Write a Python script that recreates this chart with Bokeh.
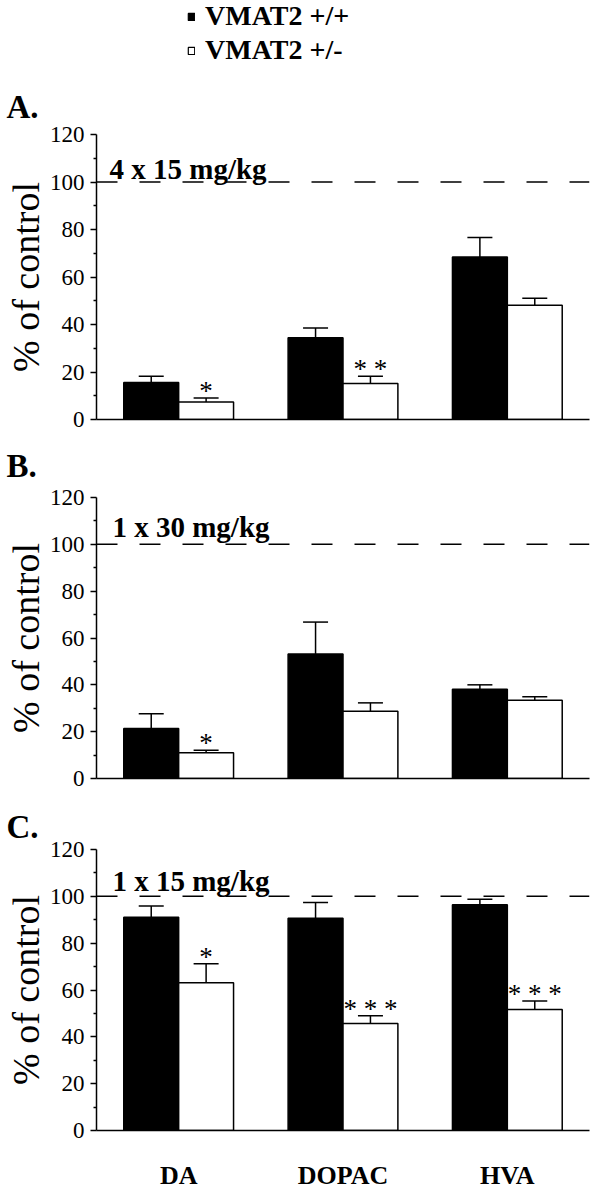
import numpy as np
from bokeh.plotting import figure
from bokeh.models import (Range1d, FactorRange, ColumnDataSource, Whisker, TeeHead, Span,
                          Label, Legend, LegendItem, FixedTicker, Title)
from bokeh.transform import dodge
from bokeh.layouts import column
from bokeh.core.properties import value
from bokeh.embed import file_html
from bokeh.resources import INLINE

# ---------------- data ----------------
categories = ["DA", "DOPAC", "HVA"]
genotypes = ["VMAT2 +/+", "VMAT2 +/-"]

panel_letters = ["A.", "B.", "C."]
doses = ["4 x 15 mg/kg", "1 x 30 mg/kg", "1 x 15 mg/kg"]

# Panel A (4 x 15 mg/kg)
a_wt = [15.6, 34.4, 68.4]
a_wt_err = [2.6, 4.1, 8.2]
a_het = [7.4, 15.2, 48.1]
a_het_err = [1.7, 3.0, 3.0]
a_sig = ["*", "* *", ""]

# Panel B (1 x 30 mg/kg)
b_wt = [21.3, 53.2, 38.1]
b_wt_err = [6.4, 13.6, 1.9]
b_het = [11.0, 28.7, 33.4]
b_het_err = [1.1, 3.6, 1.5]
b_sig = ["*", "", ""]

# Panel C (1 x 15 mg/kg)
c_wt = [91.1, 90.6, 96.4]
c_wt_err = [4.8, 6.8, 2.4]
c_het = [63.1, 45.7, 51.7]
c_het_err = [8.1, 3.3, 3.6]
c_sig = ["*", "* * *", "* * *"]

y_ticks = [0, 20, 40, 60, 80, 100, 120]
y_minor = [10, 30, 50, 70, 90, 110]
control_level = 100

SERIF = "Liberation Serif"
LEFT = 96
FRAME_W = 493
RIGHT = 1
W = LEFT + FRAME_W + RIGHT
BAR_W = 0.334
OFF = 0.167

# ---------------- legend header ----------------
header = figure(width=W, height=68, x_range=Range1d(0, 1), y_range=Range1d(0, 1),
                min_border_left=LEFT, min_border_right=RIGHT, min_border_top=0, min_border_bottom=0,
                output_backend="svg", toolbar_location=None)
header.axis.visible = False
header.grid.visible = False
header.outline_line_color = None
# legend-only renderers: a single undrawn (NaN) point, used for the legend swatches
swatch = ColumnDataSource(dict(x=np.array([0.5]), top=np.array([np.nan])))
r_leg_wt = header.vbar(x="x", top="top", width=0.1, source=swatch,
                       fill_color="black", line_color="black", line_width=1.2)
r_leg_het = header.vbar(x="x", top="top", width=0.1, source=swatch,
                        fill_color="white", line_color="black", line_width=1.2)
legend = Legend(items=[LegendItem(label=genotypes[0], renderers=[r_leg_wt]),
                       LegendItem(label=genotypes[1], renderers=[r_leg_het])],
                location=(91, 2), orientation="vertical",
                label_text_font=SERIF, label_text_font_style="bold",
                label_text_font_size="28px", label_text_color="black",
                glyph_width=8, glyph_height=9, label_standoff=10, spacing=2,
                padding=0, margin=0, border_line_color=None,
                background_fill_alpha=0)
header.add_layout(legend)


def make_panel(letter, dose, wt, wt_err, het, het_err, sig,
               top, frame_h, bottom, letter_standoff, dose_x, dose_y, show_cats):
    het_top = [v + e for v, e in zip(het, het_err)]
    src = ColumnDataSource(dict(
        cat=categories, wt=wt, het=het,
        wt_top=[v + e for v, e in zip(wt, wt_err)],
        het_top=het_top,
    ))
    keep = [i for i, s in enumerate(sig) if s]
    sig_src = ColumnDataSource(dict(
        cat=[categories[i] for i in keep],
        het_top=[het_top[i] for i in keep],
        sig=[sig[i] for i in keep],
    ))
    p = figure(x_range=FactorRange(factors=categories, range_padding=0),
               y_range=Range1d(0, 120), title=None,
               width=W, height=top + frame_h + bottom,
               min_border_left=LEFT, min_border_right=RIGHT,
               min_border_top=top, min_border_bottom=bottom,
               output_backend="svg", toolbar_location=None)
    p.outline_line_color = None
    p.xgrid.visible = False
    p.ygrid.visible = False
    p.background_fill_color = "white"
    p.border_fill_color = "white"

    p.vbar(x=dodge("cat", -OFF, range=p.x_range), top="wt", width=BAR_W,
           source=src, fill_color="black", line_color="black", line_width=1.5)
    p.vbar(x=dodge("cat", OFF, range=p.x_range), top="het", width=BAR_W,
           source=src, fill_color="white", line_color="black", line_width=1.5)

    for off, lo, hi in ((-OFF, "wt", "wt_top"), (OFF, "het", "het_top")):
        w = Whisker(source=src, base=dodge("cat", off, range=p.x_range),
                    lower=lo, upper=hi, dimension="height",
                    upper_head=TeeHead(size=25, line_width=1.5, line_color="black"),
                    lower_head=None, line_width=1.5, line_color="black")
        p.add_layout(w)

    p.text(x=dodge("cat", OFF, range=p.x_range), y="het_top", text="sig", source=sig_src,
           text_font=value(SERIF), text_font_size="27px", text_align="center",
           text_baseline="alphabetic", text_color="black", y_offset=-7)

    p.add_layout(Span(location=control_level, dimension="width", line_color="black",
                      line_width=1.5, line_dash="21 22"))

    p.add_layout(Title(text=letter, align="left", offset=-90, standoff=letter_standoff,
                       text_font=SERIF, text_font_style="bold", text_font_size="33px",
                       text_color="black"), "above")
    p.add_layout(Label(x=dose_x, y=dose_y, text=dose, text_font=SERIF,
                       text_font_style="bold", text_font_size="29px",
                       text_baseline="alphabetic", text_color="black"))

    ya = p.yaxis[0]
    ya.ticker = FixedTicker(ticks=y_ticks, minor_ticks=y_minor)
    ya.axis_label = "% of control"
    ya.axis_label_text_font = SERIF
    ya.axis_label_text_font_style = "normal"
    ya.axis_label_text_font_size = "38px"
    ya.axis_label_standoff = 0
    ya.major_label_text_font = SERIF
    ya.major_label_text_font_size = "23px"
    ya.major_label_standoff = 6
    ya.major_tick_in = 0
    ya.major_tick_out = 6
    ya.minor_tick_in = 0
    ya.minor_tick_out = 3
    ya.axis_line_width = 1.5
    ya.major_tick_line_width = 1.5
    ya.minor_tick_line_width = 1.5
    for attr in ("axis_line_color", "major_tick_line_color", "minor_tick_line_color",
                 "major_label_text_color", "axis_label_text_color"):
        setattr(ya, attr, "black")

    xa = p.xaxis[0]
    xa.major_tick_in = 0
    xa.major_tick_out = 0
    xa.axis_line_width = 1.5
    xa.axis_line_color = "black"
    if show_cats:
        xa.major_label_text_font = SERIF
        xa.major_label_text_font_style = "bold"
        xa.major_label_text_font_size = "26px"
        xa.major_label_text_color = "black"
        xa.major_label_standoff = 30
    else:
        xa.major_label_text_font_size = "1px"
        xa.major_label_text_color = None
        xa.major_label_standoff = 0
    return p


pA = make_panel(panel_letters[0], doses[0], a_wt, a_wt_err, a_het, a_het_err, a_sig,
                top=66, frame_h=285, bottom=12, letter_standoff=20,
                dose_x=0.079, dose_y=105.3, show_cats=False)
pB = make_panel(panel_letters[1], doses[1], b_wt, b_wt_err, b_het, b_het_err, b_sig,
                top=66, frame_h=281, bottom=21, letter_standoff=28,
                dose_x=0.097, dose_y=107.6, show_cats=False)
pC = make_panel(panel_letters[2], doses[2], c_wt, c_wt_err, c_het, c_het_err, c_sig,
                top=50, frame_h=283, bottom=60, letter_standoff=10,
                dose_x=0.097, dose_y=106.5, show_cats=True)

layout = column(header, pA, pB, pC, spacing=0)

open("out.html", "w").write(file_html(layout, INLINE))
